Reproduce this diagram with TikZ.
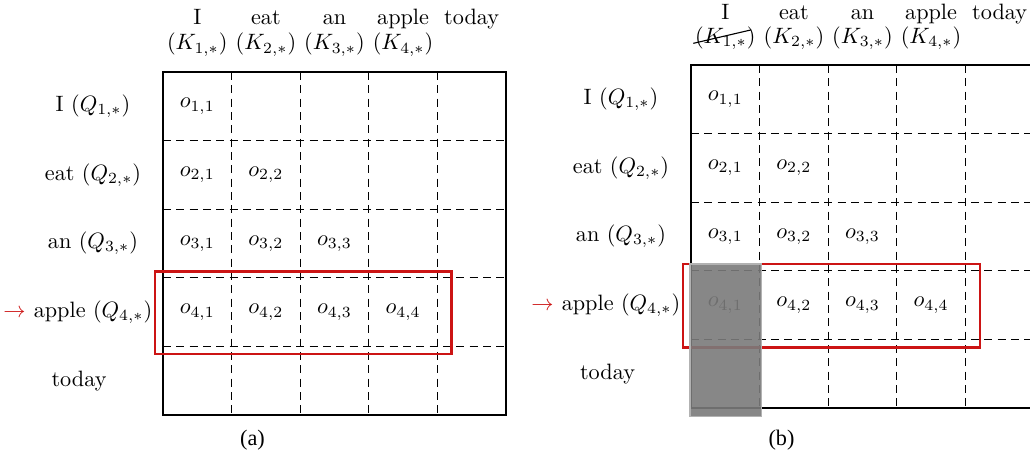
\documentclass[tikz,border=0pt]{standalone}
\usepackage{fontspec}
\newfontfamily\capfont{Liberation Serif}
\usetikzlibrary{calc}
\definecolor{boxred}{HTML}{CC1414}
\tikzset{
  gridline/.style={dash pattern=on 3.6pt off 2.4pt, line width=0.45pt},
  frameline/.style={line width=0.9pt},
  hilite/.style={draw=boxred, line width=1.15pt},
  lbl/.style={inner sep=0pt},
  cell/.style={inner sep=0pt},
  hdr/.style={inner sep=0pt, anchor=base},
  captext/.style={inner sep=0pt},
  mask/.style={fill=black!52, fill opacity=0.9, draw=black!30, line width=0.6pt},
  arrowlbl/.style={inner sep=0pt, anchor=base east, text=boxred}
}
\begin{document}
\begin{tikzpicture}[x=0.45pt,y=-0.45pt]
\useasboundingbox (0,0) rectangle (1030,457);
\clip (0,0) rectangle (1030,457);
\def\c{68.6}
% ---------------- panel (a)
\foreach \i in {1,...,4}{
  \draw[gridline] ({163+\i*\c},72) -- ({163+\i*\c},415);
  \draw[gridline] (163,{72+\i*\c}) -- (506,{72+\i*\c});
}
\draw[frameline] (163,72) rectangle (506,415);
\foreach \r in {1,...,4}{
  \foreach \k in {1,...,\r}{
    \node[cell] (a\r\k) at ({163+(\k-0.5)*\c},{72+(\r-0.5)*\c}) {$o_{\r,\k}$};
  }
}
\foreach \w [count=\k] in {I,eat,an,apple,today}{
  \node[hdr] (aw\k) at ({163+(\k-0.5)*\c},24) {\w};
}
\foreach \k in {1,...,4}{
  \node[hdr] (ak\k) at ({163+(\k-0.5)*\c},50) {$(K_{\k,*})$};
}
\node[lbl] (aq1) at (93,106.3) {I ($Q_{1,*}$)};
\node[lbl] (aq2) at (93,174.9) {eat ($Q_{2,*}$)};
\node[lbl] (aq3) at (93,243.5) {an ($Q_{3,*}$)};
\node[lbl] (aq4) at (93,312.1) {apple ($Q_{4,*}$)};
\node[arrowlbl] (aarr) at ([xshift=-3.3pt]aq4.base west) {$\rightarrow$};
\node[lbl] (aq5) at (79,380.7) {today};
\node[captext] (capa) at (252.5,440) {\capfont (a)};
\draw[hilite] (155,271.5) rectangle (451.5,354);
% ---------------- panel (b)
\foreach \i in {1,...,4}{
  \draw[gridline] ({691+\i*\c},65) -- ({691+\i*\c},408);
  \draw[gridline] (691,{65+\i*\c}) -- (1040,{65+\i*\c});
}
\draw[frameline] (1034,65) -- (691,65) -- (691,408) -- (1034,408) -- cycle;
\foreach \r in {1,...,4}{
  \foreach \k in {1,...,\r}{
    \node[cell] (b\r\k) at ({691+(\k-0.5)*\c},{65+(\r-0.5)*\c}) {$o_{\r,\k}$};
  }
}
\foreach \w [count=\k] in {I,eat,an,apple,today}{
  \node[hdr] (bw\k) at ({691+(\k-0.5)*\c},20) {\w};
}
\foreach \k in {1,...,4}{
  \node[hdr] (bk\k) at ({691+(\k-0.5)*\c},43) {$(K_{\k,*})$};
}
\draw[line width=0.5pt] ($(bk1.center)+(-32,5.5)$) -- ($(bk1.center)+(26,-8)$);
\node[lbl] (bq1) at (621,99.3) {I ($Q_{1,*}$)};
\node[lbl] (bq2) at (621,167.9) {eat ($Q_{2,*}$)};
\node[lbl] (bq3) at (621,236.5) {an ($Q_{3,*}$)};
\node[lbl] (bq4) at (621,305.1) {apple ($Q_{4,*}$)};
\node[arrowlbl] (barr) at ([xshift=-3.3pt]bq4.base west) {$\rightarrow$};
\node[lbl] (bq5) at (607.5,373.7) {today};
\node[captext] (capb) at (781.5,440) {\capfont (b)};
\draw[hilite] (683,264) rectangle (980,347.7);
\draw[mask] (690,264) rectangle (761.5,416.7);
\end{tikzpicture}
\end{document}
